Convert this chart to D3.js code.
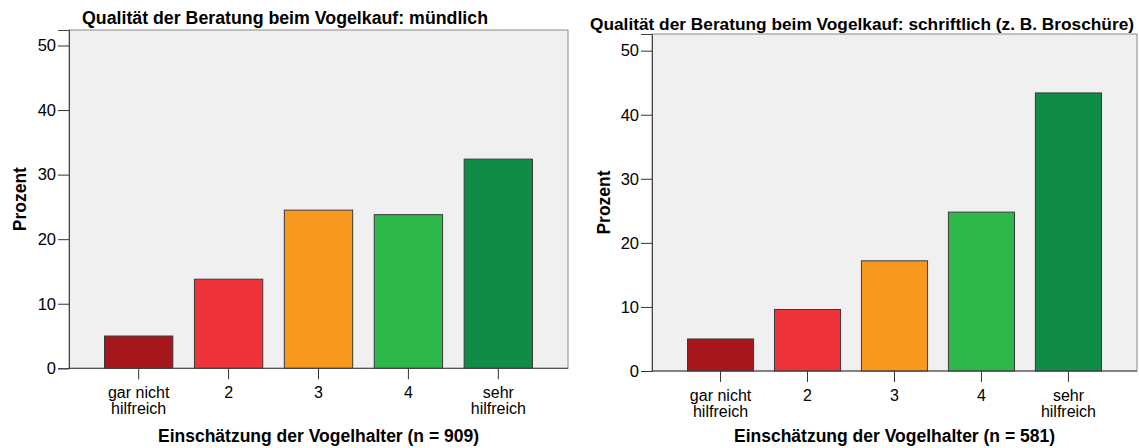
<!DOCTYPE html>
<html>
<head>
<meta charset="utf-8">
<script src="https://cdn.jsdelivr.net/npm/d3@7"></script>
<style>
  body { margin: 0; background: #fff; }
  svg text { font-family: "Liberation Sans", Arial, sans-serif; fill: #000; }
</style>
</head>
<body>
<div id="chart"></div>
<script>
// data
var categories = ["gar nicht\nhilfreich", "2", "3", "4", "sehr\nhilfreich"];
var muendlich = [5.0, 13.8, 24.5, 23.8, 32.4];
var schriftlich = [5.0, 9.6, 17.2, 24.8, 43.4];
var yTicks = [0, 10, 20, 30, 40, 50];
var colors = ["#A5161D", "#EF333B", "#F7991E", "#2FB84A", "#118C48"];

var svg = d3.select("#chart").append("svg")
  .attr("width", 1139)
  .attr("height", 448);

// one panel per question
var panels = [
  { title: "Qualität der Beratung beim Vogelkauf: mündlich", titleX: 82, titleY: 24, titleW: 406, titleSize: 17.5,
    xTitle: "Einschätzung der Vogelhalter (n = 909)", values: muendlich,
    left: 69, right: 568, top: 30, bottom: 368.3, yMax: 52.4, labelX: 26 },
  { title: "Qualität der Beratung beim Vogelkauf: schriftlich (z. B. Broschüre)", titleX: 590, titleY: 30, titleW: 544, titleSize: 16.8,
    xTitle: "Einschätzung der Vogelhalter (n = 581)", values: schriftlich,
    left: 652, right: 1137, top: 34, bottom: 371, yMax: 52.6, labelX: 610 }
];

panels.forEach(function (p) {
  var g = svg.append("g");

  var x = d3.scaleBand()
    .domain(categories)
    .range([p.left + 35.5, p.right - 35.5])
    .paddingInner(0.24)
    .paddingOuter(0);

  var y = d3.scaleLinear()
    .domain([0, p.yMax])
    .range([p.bottom, p.top]);

  // plot background
  g.append("rect")
    .attr("x", p.left)
    .attr("y", p.top)
    .attr("width", p.right - p.left)
    .attr("height", p.bottom - p.top)
    .attr("fill", "#F0F0F0")
    .attr("stroke", "#8a8a8a")
    .attr("stroke-width", 1);

  // bars
  g.selectAll(".bar")
    .data(p.values)
    .enter().append("rect")
    .attr("class", "bar")
    .attr("x", function (d, i) { return x(categories[i]); })
    .attr("y", function (d) { return y(d); })
    .attr("width", x.bandwidth())
    .attr("height", function (d) { return y(0) - y(d); })
    .attr("fill", function (d, i) { return colors[i]; })
    .attr("stroke", "#3a3a3a")
    .attr("stroke-width", 1);

  // y axis
  var yAxis = g.append("g")
    .attr("transform", "translate(" + p.left + ",0)")
    .call(d3.axisLeft(y).tickValues(yTicks).tickSize(11).tickPadding(2).tickFormat(d3.format("d")));
  yAxis.select(".domain").attr("stroke", "#444");
  yAxis.selectAll(".tick line").attr("stroke", "#333");
  yAxis.selectAll(".tick text")
    .style("font-size", "16.5px")
    .attr("fill", "#000");

  // x axis
  var xAxis = g.append("g")
    .attr("transform", "translate(0," + p.bottom + ")")
    .call(d3.axisBottom(x).tickSize(11).tickSizeOuter(0));
  xAxis.select(".domain").remove();
  xAxis.selectAll(".tick line").attr("stroke", "#333");
  xAxis.selectAll(".tick text").remove();

  // bottom line of the plot
  g.append("line")
    .attr("x1", p.left).attr("x2", p.right)
    .attr("y1", p.bottom).attr("y2", p.bottom)
    .attr("stroke", "#444");

  // two-line category labels
  categories.forEach(function (c) {
    var lines = c.split("\n");
    var t = g.append("text")
      .attr("text-anchor", "middle")
      .style("font-size", "16px");
    lines.forEach(function (l, j) {
      t.append("tspan")
        .attr("x", x(c) + x.bandwidth() / 2)
        .attr("y", p.bottom + 30 + j * 15.5)
        .text(l);
    });
  });

  // titles
  g.append("text")
    .attr("x", p.titleX)
    .attr("y", p.titleY)
    .attr("textLength", p.titleW)
    .attr("lengthAdjust", "spacingAndGlyphs")
    .style("font-size", p.titleSize + "px")
    .style("font-weight", "bold")
    .text(p.title);

  g.append("text")
    .attr("x", (p.left + p.right) / 2)
    .attr("y", 442)
    .attr("text-anchor", "middle")
    .style("font-size", "17.5px")
    .style("font-weight", "bold")
    .text(p.xTitle);

  g.append("text")
    .attr("transform", "translate(" + p.labelX + "," + ((p.top + p.bottom) / 2) + ") rotate(-90)")
    .attr("text-anchor", "middle")
    .style("font-size", "17.5px")
    .style("font-weight", "bold")
    .text("Prozent");
});
</script>
</body>
</html>
